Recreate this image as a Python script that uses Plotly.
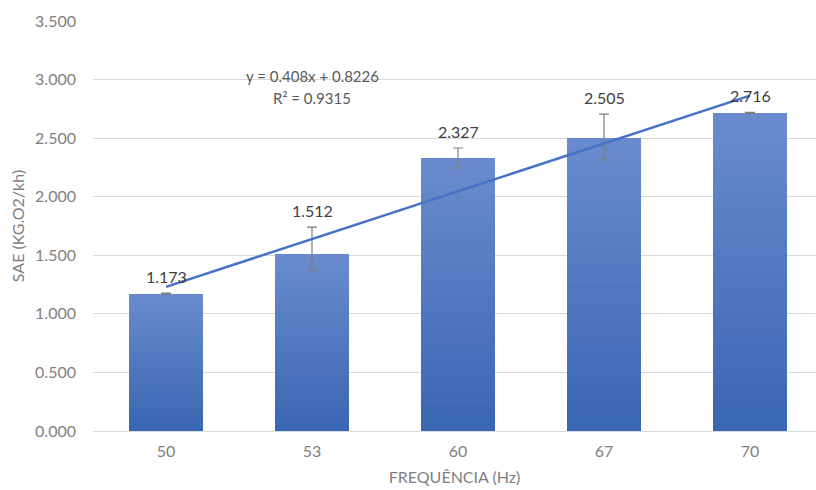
import plotly.graph_objects as go

# Aeration efficiency by blower frequency
frequencies = ["50", "53", "60", "67", "70"]
sae_values = [1.173, 1.512, 2.327, 2.505, 2.716]
err_plus = [0.005, 0.229, 0.089, 0.200, 0.004]
err_minus = [0.005, 0.138, 0.082, 0.190, 0.004]

# Linear trend fitted over category order (1..5)
trend_slope = 0.408
trend_intercept = 0.8226
trend_r2 = 0.9315

y_ticks = [0.0, 0.5, 1.0, 1.5, 2.0, 2.5, 3.0, 3.5]

FONT = "Lato"
BAR_TOP = (106, 140, 205)
BAR_BOTTOM = (57, 102, 178)
N_SEG = 30


def mix(a, b, t):
    return "rgb({},{},{})".format(*[round(a[i] + (b[i] - a[i]) * t) for i in range(3)])


fig = go.Figure()

# Bars drawn as stacked slices to give a vertical colour gradient
for k in range(N_SEG):
    t = (k + 0.5) / N_SEG
    fig.add_trace(go.Bar(
        x=frequencies,
        y=[v / N_SEG for v in sae_values],
        marker=dict(color=mix(BAR_BOTTOM, BAR_TOP, t), line=dict(width=0)),
        width=0.51,
        showlegend=False,
        hoverinfo="skip",
    ))

# Error bars
fig.add_trace(go.Scatter(
    x=frequencies,
    y=sae_values,
    mode="markers",
    marker=dict(size=1, opacity=0),
    error_y=dict(type="data", array=err_plus, arrayminus=err_minus,
                 symmetric=False, color="#7f7f7f", thickness=1.2, width=5),
    showlegend=False,
    hoverinfo="skip",
))

# Trend line
idx = list(range(1, len(frequencies) + 1))
fig.add_trace(go.Scatter(
    x=frequencies,
    y=[trend_slope * i + trend_intercept for i in idx],
    mode="lines",
    line=dict(color="#4472c4", width=2.5),
    showlegend=False,
    hoverinfo="skip",
))

# Value labels above the error bars (placed by category index)
for i, (v, e) in enumerate(zip(sae_values, err_plus)):
    fig.add_annotation(
        x=i, y=v + e, xref="x", yref="y", text=f"{v:.3f}", showarrow=False,
        yanchor="bottom", yshift=5,
        font=dict(family=FONT, size=16, color="#404040"),
    )

# Trend equation
fig.add_annotation(
    x=1.0, y=3.03, xref="x", yref="y",
    text=f"y = {trend_slope}x + {trend_intercept}",
    showarrow=False, font=dict(family=FONT, size=15, color="#595959"),
)
fig.add_annotation(
    x=1.0, y=2.84, xref="x", yref="y",
    text=f"R² = {trend_r2}",
    showarrow=False, font=dict(family=FONT, size=15, color="#595959"),
)

fig.update_layout(
    width=816, height=490,
    margin=dict(l=93, r=0, t=21, b=59),
    paper_bgcolor="white",
    plot_bgcolor="white",
    barmode="stack",
    bargap=0.49,
    font=dict(family=FONT, color="#7f7f7f"),
    xaxis=dict(
        type="category",
        range=[-0.5, 4.452],
        showgrid=False,
        showline=True, linecolor="#d9d9d9", linewidth=1,
        ticks="",
        ticklabelstandoff=6,
        tickfont=dict(size=16, color="#7f7f7f"),
        title=dict(text="FREQUÊNCIA (Hz)", font=dict(size=16, color="#7f7f7f"), standoff=12),
    ),
    yaxis=dict(
        range=[0, 3.5],
        tickvals=y_ticks,
        tickformat=".3f",
        showgrid=True, gridcolor="#d9d9d9", gridwidth=1,
        zeroline=False,
        ticks="",
        ticklabelstandoff=16,
        tickfont=dict(size=16, color="#7f7f7f"),
        title=dict(text="SAE (KG.O2/kh)", font=dict(size=16, color="#7f7f7f"), standoff=6),
    ),
)

fig.write_html("out.html")
